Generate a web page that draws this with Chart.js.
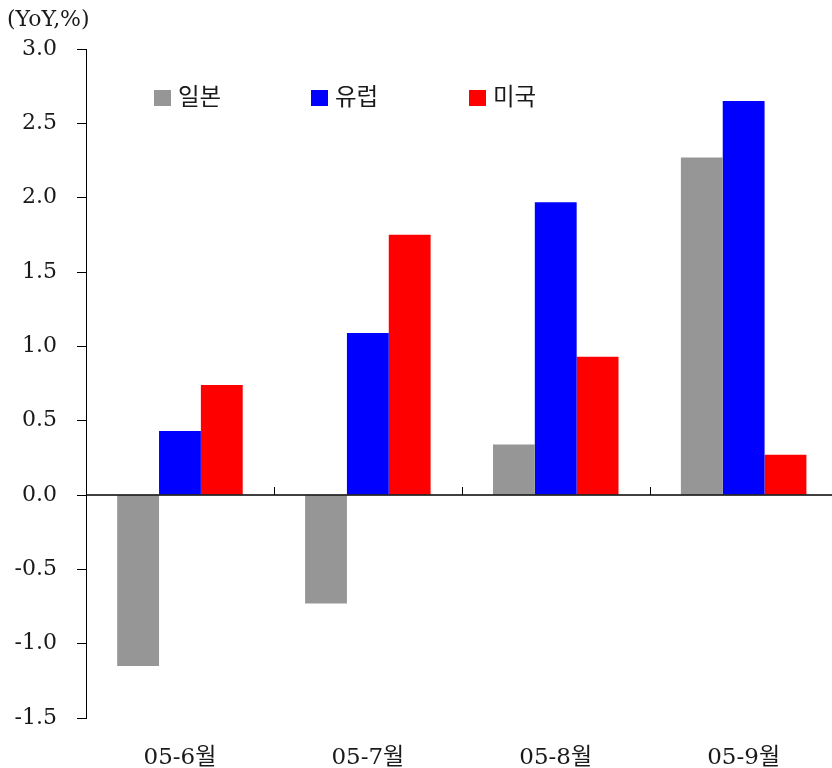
<!DOCTYPE html>
<html>
<head>
<meta charset="utf-8">
<script src="https://cdn.jsdelivr.net/npm/chart.js@4/dist/chart.umd.min.js"></script>
<style>
  html, body { margin: 0; padding: 0; background: #fff; overflow: hidden; }
  #wrap { width: 840px; height: 768px; }
</style>
</head>
<body>
<div id="wrap"><canvas id="c" width="840" height="768"></canvas></div>
<script>
// Year-over-year change (%) by month
const months = ['05-6월', '05-7월', '05-8월', '05-9월'];
const japan  = [-1.15, -0.73, 0.34, 2.27];
const europe = [0.43, 1.09, 1.97, 2.65];
const usa    = [0.74, 1.75, 0.93, 0.27];
const seriesNames = ['일본', '유럽', '미국'];
const yTicks = [-1.5, -1.0, -0.5, 0.0, 0.5, 1.0, 1.5, 2.0, 2.5, 3.0];

const FONT = '"DejaVu Serif", "Noto Sans CJK KR", serif';
const TEXT = '#1a1a1a';

// Zero baseline plus the small category separators rising from it
const baseline = {
  id: 'baseline',
  afterDatasetsDraw(chart) {
    const { ctx, chartArea, scales } = chart;
    const y0 = scales.y.getPixelForValue(0);
    ctx.save();
    ctx.strokeStyle = '#000';
    ctx.lineWidth = 1.5;
    ctx.beginPath();
    ctx.moveTo(chartArea.left, y0);
    ctx.lineTo(chartArea.right, y0);
    ctx.stroke();
    ctx.lineWidth = 1;
    const xs = scales.x;
    for (let i = 0; i < months.length; i++) {
      const half = (xs.getPixelForTick(1) - xs.getPixelForTick(0)) / 2;
      const bx = Math.round(xs.getPixelForTick(i) + half) + 0.5;
      ctx.beginPath();
      ctx.moveTo(bx, y0);
      ctx.lineTo(bx, y0 - 8);
      ctx.stroke();
    }
    ctx.restore();
  }
};

// Unit label and in-plot legend
const annotations = {
  id: 'annotations',
  afterDraw(chart) {
    const { ctx } = chart;
    ctx.save();
    ctx.fillStyle = TEXT;
    ctx.font = '22px ' + FONT;
    ctx.textBaseline = 'middle';
    ctx.textAlign = 'left';
    ctx.fillText('(YoY,%)', 7, 20);
    const starts = [154, 311, 469];
    chart.data.datasets.forEach((ds, i) => {
      ctx.fillStyle = ds.backgroundColor;
      ctx.fillRect(starts[i], 90, 17, 16);
      ctx.fillStyle = TEXT;
      ctx.font = '23.5px ' + FONT;
      ctx.fillText(ds.label, starts[i] + 24, 99);
    });
    ctx.restore();
  }
};

new Chart(document.getElementById('c'), {
  type: 'bar',
  data: {
    labels: months,
    datasets: [
      { label: seriesNames[0], data: japan,  backgroundColor: '#969696' },
      { label: seriesNames[1], data: europe, backgroundColor: '#0000ff' },
      { label: seriesNames[2], data: usa,    backgroundColor: '#ff0000' }
    ]
  },
  options: {
    responsive: false,
    animation: false,
    devicePixelRatio: 1,
    layout: { padding: { top: 49, right: 2.4, bottom: 0, left: 0 } },
    datasets: { bar: { categoryPercentage: 0.668, barPercentage: 1.0, borderWidth: 0 } },
    plugins: { legend: { display: false }, tooltip: { enabled: false } },
    scales: {
      x: {
        grid: { display: false },
        border: { display: false },
        ticks: { color: TEXT, font: { family: FONT, size: 23 }, padding: 18, maxRotation: 0 },
        afterFit(scale) { scale.height = 50; }
      },
      y: {
        min: yTicks[0],
        max: yTicks[yTicks.length - 1],
        afterBuildTicks(scale) { scale.ticks = yTicks.map(v => ({ value: v })); },
        ticks: {
          color: TEXT,
          font: { family: FONT, size: 22 },
          padding: 20,
          callback: v => Number(v).toFixed(1)
        },
        grid: { drawOnChartArea: false, drawTicks: true, tickLength: 9, color: '#000' },
        border: { display: true, color: '#000', width: 1 },
        afterFit(scale) { scale.width = 86; }
      }
    }
  },
  plugins: [baseline, annotations]
});
</script>
</body>
</html>
